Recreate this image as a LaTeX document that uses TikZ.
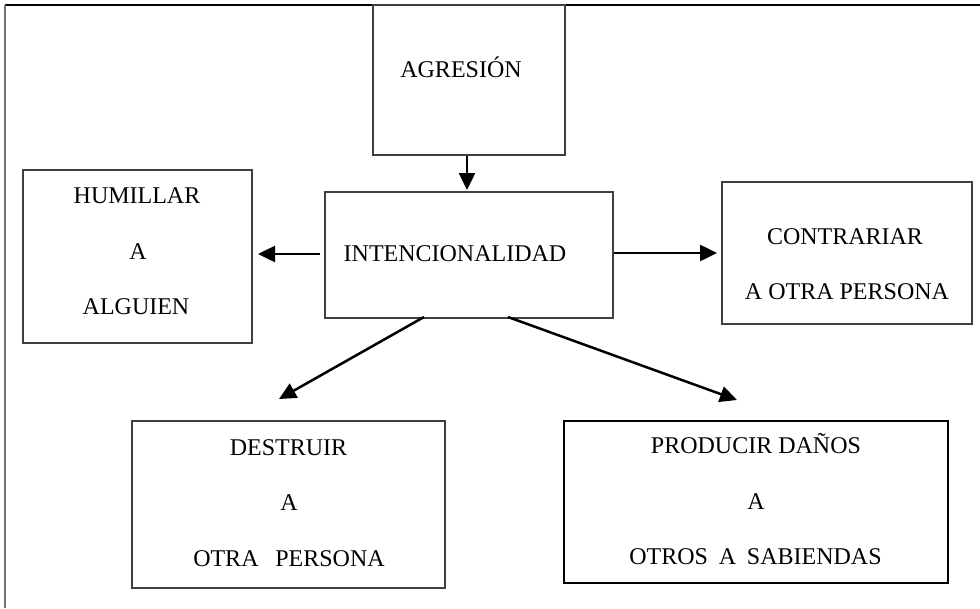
\documentclass[tikz,border=0pt]{standalone}
\usepackage{fontspec}
\setmainfont{Liberation Serif}
\usetikzlibrary{arrows.meta,calc}

\tikzset{
  box/.style={draw=black!75, line width=1.3pt, inner sep=0pt, fill=none},
  boldbox/.style={draw=black, line width=2.2pt, inner sep=0pt},
  txt/.style={anchor=base, inner sep=0pt, font=\fontsize{24}{28}\selectfont},
  arr/.style={draw=black, line width=2.5pt,
    -{Triangle[length=17pt,width=16pt]}},
}

\begin{document}
\begin{tikzpicture}[x=1pt,y=-1pt]
  \useasboundingbox (0,0) rectangle (980,608);

  % open frame: top and left edges only
  \draw[black, line width=2.2pt] (5,5) -- (980,5);
  \draw[black!55, line width=2.4pt] (5,5) -- (5,608);

  % boxes
  \node[box, minimum width=192pt, minimum height=150pt] (agr) at (469,80) {};
  \node[box, minimum width=288pt, minimum height=126pt] (int) at (469,255) {};
  \node[box, minimum width=229pt, minimum height=173pt] (hum) at (137.5,256.5) {};
  \node[box, minimum width=250pt, minimum height=142pt] (con) at (847,253) {};
  \node[box, minimum width=313pt, minimum height=167pt] (des) at (288.5,504.5) {};
  \node[boldbox, minimum width=384pt, minimum height=162pt] (pro) at (756,502) {};

  % texts
  \node[txt] (agr-t) at (461,77) {AGRESIÓN};
  \node[txt] (int-t) at (455,261) {INTENCIONALIDAD};

  \node[txt] (hum-1) at (137,203) {HUMILLAR};
  \node[txt] (hum-2) at (138,259) {A};
  \node[txt] (hum-3) at (136,314) {ALGUIEN};

  \node[txt] (con-1) at (845,244) {CONTRARIAR};
  \node[txt] (con-2) at (847,299) {A OTRA PERSONA};

  \node[txt] (des-1) at (288.5,455) {DESTRUIR};
  \node[txt] (des-2) at (289,510) {A};
  \node[txt] (des-3) at (289,566) {OTRA\hspace{0.7em}PERSONA};

  \node[txt] (pro-1) at (756,453) {PRODUCIR DAÑOS};
  \node[txt] (pro-2) at (756,509) {A};
  \node[txt] (pro-3) at (755.5,564) {OTROS\hspace{0.45em}A\hspace{0.45em}SABIENDAS};

  % connector end points
  \coordinate (int-i) at (467,190);
  \coordinate (hum-s) at (320,254);
  \coordinate (hum-e) at (258,254);
  \coordinate (con-e) at (717,253);
  \coordinate (des-s) at (424,317);
  \coordinate (des-e) at (279,399);
  \coordinate (pro-s) at (508,317);
  \coordinate (pro-e) at (737,400);

  % connectors
  \draw[arr] (agr.south -| int-i) -- (int-i);
  \draw[arr] (hum-s) -- (hum-e);
  \draw[arr] (int.east |- con-e) -- (con-e);
  \draw[arr] (des-s) -- (des-e);
  \draw[arr] (pro-s) -- (pro-e);
\end{tikzpicture}
\end{document}
